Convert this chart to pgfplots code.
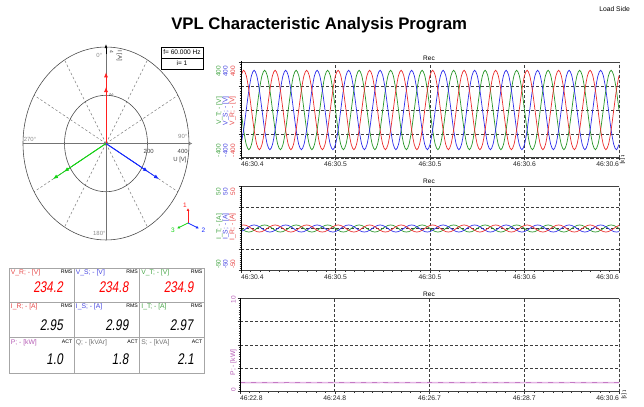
\documentclass[border=0pt]{standalone}
\usepackage{pgfplots}
\pgfplotsset{compat=1.18}
\usepackage{pgfplotstable}
\usepackage{fontspec}
\setmainfont{Liberation Sans}
\newfontfamily\segfont{Liberation Sans}[FakeStretch=0.76,FakeSlant=0.15]
\usetikzlibrary{arrows.meta}
\definecolor{wred}{RGB}{235,45,45}
\definecolor{wblue}{RGB}{45,45,235}
\definecolor{wgreen}{RGB}{40,150,40}
\definecolor{lred}{RGB}{230,70,70}
\definecolor{lblue}{RGB}{70,70,225}
\definecolor{lgreen}{RGB}{70,165,70}
\definecolor{pred}{RGB}{255,30,30}
\definecolor{pblue}{RGB}{20,40,255}
\definecolor{pgreen}{RGB}{20,210,20}
\definecolor{ppurple}{RGB}{180,90,180}
\definecolor{plight}{RGB}{228,180,228}
\definecolor{gridc}{RGB}{60,60,60}
\newcommand{\fs}[1]{\fontsize{#1}{#1}\selectfont}

\pgfplotstableread{
vr vs vt ir is it
287 -287 0 3.64 -3.64 0
331 -166 -166 4.2 -2.1 -2.1
287 0 -287 3.64 0 -3.64
166 166 -331 2.1 2.1 -4.2
0 287 -287 0 3.64 -3.64
-166 331 -166 -2.1 4.2 -2.1
-287 287 0 -3.64 3.64 0
-331 166 166 -4.2 2.1 2.1
-287 0 287 -3.64 0 3.64
-166 -166 331 -2.1 -2.1 4.2
0 -287 287 0 -3.64 3.64
166 -331 166 2.1 -4.2 2.1
287 -287 0 3.64 -3.64 0
331 -166 -166 4.2 -2.1 -2.1
287 0 -287 3.64 0 -3.64
166 166 -331 2.1 2.1 -4.2
0 287 -287 0 3.64 -3.64
-166 331 -166 -2.1 4.2 -2.1
-287 287 0 -3.64 3.64 0
-331 166 166 -4.2 2.1 2.1
-287 0 287 -3.64 0 3.64
-166 -166 331 -2.1 -2.1 4.2
0 -287 287 0 -3.64 3.64
166 -331 166 2.1 -4.2 2.1
287 -287 0 3.64 -3.64 0
331 -166 -166 4.2 -2.1 -2.1
287 0 -287 3.64 0 -3.64
166 166 -331 2.1 2.1 -4.2
0 287 -287 0 3.64 -3.64
-166 331 -166 -2.1 4.2 -2.1
-287 287 0 -3.64 3.64 0
-331 166 166 -4.2 2.1 2.1
-287 0 287 -3.64 0 3.64
-166 -166 331 -2.1 -2.1 4.2
0 -287 287 0 -3.64 3.64
166 -331 166 2.1 -4.2 2.1
287 -287 0 3.64 -3.64 0
331 -166 -166 4.2 -2.1 -2.1
287 0 -287 3.64 0 -3.64
166 166 -331 2.1 2.1 -4.2
0 287 -287 0 3.64 -3.64
-166 331 -166 -2.1 4.2 -2.1
-287 287 0 -3.64 3.64 0
-331 166 166 -4.2 2.1 2.1
-287 0 287 -3.64 0 3.64
-166 -166 331 -2.1 -2.1 4.2
0 -287 287 0 -3.64 3.64
166 -331 166 2.1 -4.2 2.1
287 -287 0 3.64 -3.64 0
331 -166 -166 4.2 -2.1 -2.1
287 0 -287 3.64 0 -3.64
166 166 -331 2.1 2.1 -4.2
0 287 -287 0 3.64 -3.64
-166 331 -166 -2.1 4.2 -2.1
-287 287 0 -3.64 3.64 0
-331 166 166 -4.2 2.1 2.1
-287 0 287 -3.64 0 3.64
-166 -166 331 -2.1 -2.1 4.2
0 -287 287 0 -3.64 3.64
166 -331 166 2.1 -4.2 2.1
287 -287 0 3.64 -3.64 0
331 -166 -166 4.2 -2.1 -2.1
287 0 -287 3.64 0 -3.64
166 166 -331 2.1 2.1 -4.2
0 287 -287 0 3.64 -3.64
-166 331 -166 -2.1 4.2 -2.1
-287 287 0 -3.64 3.64 0
-331 166 166 -4.2 2.1 2.1
-287 0 287 -3.64 0 3.64
-166 -166 331 -2.1 -2.1 4.2
0 -287 287 0 -3.64 3.64
166 -331 166 2.1 -4.2 2.1
287 -287 0 3.64 -3.64 0
331 -166 -166 4.2 -2.1 -2.1
287 0 -287 3.64 0 -3.64
166 166 -331 2.1 2.1 -4.2
0 287 -287 0 3.64 -3.64
-166 331 -166 -2.1 4.2 -2.1
-287 287 0 -3.64 3.64 0
-331 166 166 -4.2 2.1 2.1
-287 0 287 -3.64 0 3.64
-166 -166 331 -2.1 -2.1 4.2
0 -287 287 0 -3.64 3.64
166 -331 166 2.1 -4.2 2.1
287 -287 0 3.64 -3.64 0
331 -166 -166 4.2 -2.1 -2.1
287 0 -287 3.64 0 -3.64
166 166 -331 2.1 2.1 -4.2
0 287 -287 0 3.64 -3.64
-166 331 -166 -2.1 4.2 -2.1
-287 287 0 -3.64 3.64 0
-331 166 166 -4.2 2.1 2.1
-287 0 287 -3.64 0 3.64
-166 -166 331 -2.1 -2.1 4.2
0 -287 287 0 -3.64 3.64
166 -331 166 2.1 -4.2 2.1
287 -287 0 3.64 -3.64 0
331 -166 -166 4.2 -2.1 -2.1
287 0 -287 3.64 0 -3.64
166 166 -331 2.1 2.1 -4.2
0 287 -287 0 3.64 -3.64
-166 331 -166 -2.1 4.2 -2.1
-287 287 0 -3.64 3.64 0
-331 166 166 -4.2 2.1 2.1
-287 0 287 -3.64 0 3.64
-166 -166 331 -2.1 -2.1 4.2
0 -287 287 0 -3.64 3.64
166 -331 166 2.1 -4.2 2.1
287 -287 0 3.64 -3.64 0
331 -166 -166 4.2 -2.1 -2.1
287 0 -287 3.64 0 -3.64
166 166 -331 2.1 2.1 -4.2
0 287 -287 0 3.64 -3.64
-166 331 -166 -2.1 4.2 -2.1
-287 287 0 -3.64 3.64 0
-331 166 166 -4.2 2.1 2.1
-287 0 287 -3.64 0 3.64
-166 -166 331 -2.1 -2.1 4.2
0 -287 287 0 -3.64 3.64
166 -331 166 2.1 -4.2 2.1
287 -287 0 3.64 -3.64 0
331 -166 -166 4.2 -2.1 -2.1
287 0 -287 3.64 0 -3.64
166 166 -331 2.1 2.1 -4.2
0 287 -287 0 3.64 -3.64
-166 331 -166 -2.1 4.2 -2.1
-287 287 0 -3.64 3.64 0
-331 166 166 -4.2 2.1 2.1
-287 0 287 -3.64 0 3.64
-166 -166 331 -2.1 -2.1 4.2
0 -287 287 0 -3.64 3.64
166 -331 166 2.1 -4.2 2.1
287 -287 0 3.64 -3.64 0
331 -166 -166 4.2 -2.1 -2.1
287 0 -287 3.64 0 -3.64
166 166 -331 2.1 2.1 -4.2
0 287 -287 0 3.64 -3.64
-166 331 -166 -2.1 4.2 -2.1
-287 287 0 -3.64 3.64 0
-331 166 166 -4.2 2.1 2.1
-287 0 287 -3.64 0 3.64
-166 -166 331 -2.1 -2.1 4.2
0 -287 287 0 -3.64 3.64
166 -331 166 2.1 -4.2 2.1
287 -287 0 3.64 -3.64 0
}\wave

\pgfplotsset{panel/.style={
  scale only axis, anchor=south west,
  axis line style={draw=none},
  tick align=outside, tick pos=left,
  major tick length=2.5bp, minor tick length=1.3bp,
  tick style={black!80, line width=0.4bp},
  minor tick style={black!80, line width=0.35bp},
  grid=major, major grid style={gridc, dash pattern=on 3bp off 2bp, line width=0.55bp},
  xticklabel style={font=\fs{6.8}, text=black!85, inner sep=1.5bp},
  yticklabels={},
  minor x tick num=9, minor y tick num=9,
}}
\newcommand{\frameit}{%
 \draw[black!50, line width=0.6bp] (rel axis cs:1,0) -- (rel axis cs:1,1);
 \draw[black!75, line width=0.8bp] (rel axis cs:0,1) -- (rel axis cs:1,1);
 \draw[black!75, line width=1.6bp] (rel axis cs:0,0) -- (rel axis cs:1,0);
 \draw[black, line width=0.6bp, -{Latex[length=4bp,width=3bp]}] (rel axis cs:0,0) -- ([yshift=7.5bp]rel axis cs:0,1);
}

\begin{document}
\begin{tikzpicture}
\path[use as bounding box] (0,0) rectangle (644bp,407bp);

% ---------------- phasor diagram ----------------
\begin{axis}[at={(18.85bp,162.2bp)}, anchor=south west, scale only axis,
  width=174.3bp, height=202.6bp, disabledatascaling,
  xmin=-420, xmax=420, ymin=-420, ymax=420, hide axis, clip=false]
\draw[black!55, dash pattern=on 2.5bp off 2bp, line width=0.45bp]
  (axis cs:0,0) -- (axis cs:200,346.4)
  (axis cs:0,0) -- (axis cs:346.4,200)
  (axis cs:0,0) -- (axis cs:346.4,-200)
  (axis cs:0,0) -- (axis cs:200,-346.4)
  (axis cs:0,0) -- (axis cs:-200,-346.4)
  (axis cs:0,0) -- (axis cs:-346.4,-200)
  (axis cs:0,0) -- (axis cs:-346.4,200)
  (axis cs:0,0) -- (axis cs:-200,346.4);
\draw[black!70, line width=0.6bp] (axis cs:0,0) ellipse [x radius=400, y radius=400];
\draw[black!70, line width=0.6bp] (axis cs:0,0) ellipse [x radius=200, y radius=200];
\draw[black!55, line width=0.6bp, -{Triangle[open,length=3bp,width=3bp]}] (axis cs:-400,0) -- (axis cs:415,0);
\draw[black!55, line width=0.6bp] (axis cs:0,-400) -- (axis cs:0,400);
\draw[black, line width=0.6bp, -{Latex[length=4bp,width=3bp]}] (axis cs:0,370) -- (axis cs:0,412);
% currents (longer)
\addplot[pred, line width=0.8bp, -{Latex[length=5bp,width=4bp]}] coordinates {(0,0) (0,295)};
\addplot[pblue, line width=0.8bp, -{Latex[length=5bp,width=4bp]}] coordinates {(0,0) (255.5,-147.5)};
\addplot[pgreen, line width=0.8bp, -{Latex[length=5bp,width=4bp]}] coordinates {(0,0) (-255.5,-147.5)};
% voltages
\addplot[pred, line width=0.8bp, -{Latex[length=5bp,width=4bp]}] coordinates {(0,0) (0,234)};
\addplot[pblue, line width=0.8bp, -{Latex[length=5bp,width=4bp]}] coordinates {(0,0) (202.6,-117)};
\addplot[pgreen, line width=0.8bp, -{Latex[length=5bp,width=4bp]}] coordinates {(0,0) (-202.6,-117)};
\end{axis}

% phasor labels
\begin{scope}[every node/.style={inner sep=0, font=\fs{6}}]
\node[text=black!45] at (99.3bp,352bp) {0°};
\node[text=black!45] at (182.7bp,271bp) {90°};
\node[text=black!45] at (30bp,267.7bp) {270°};
\node[text=black!45] at (99.3bp,173.7bp) {180°};
\node[text=black!75] at (148.7bp,255.3bp) {200};
\node[text=black!75] at (182.7bp,255.3bp) {400};
\node[text=black!75] at (180bp,247bp) {U [V]};
\node[text=black!75, rotate=-90] at (119.3bp,351bp) {I [A]};
\node[text=black!75, rotate=-90, font=\fs{5}] at (111.7bp,355.3bp) {4};
\node[text=black!75, rotate=-90, font=\fs{5}] at (111.7bp,312bp) {2};
\end{scope}
% frequency box
\draw[black, line width=0.7bp] (161bp,338bp) rectangle (203bp,360bp);
\draw[black, line width=0.6bp] (161bp,349bp) -- (203bp,349bp);
\node[inner sep=0, font=\fs{6.6}] at (182bp,354.5bp) {f= 60.000 Hz};
\node[inner sep=0, font=\fs{6.6}] at (182bp,343.5bp) {i= 1};
% orientation icon
\draw[pred, line width=0.7bp, -{Latex[length=3bp,width=3bp]}] (188bp,184bp) -- (188bp,199bp);
\draw[pblue, line width=0.7bp, -{Latex[length=3bp,width=3bp]}] (188bp,184bp) -- (199bp,178.5bp);
\draw[pgreen, line width=0.7bp, -{Latex[length=3bp,width=3bp]}] (188bp,184bp) -- (177bp,178.5bp);
\node[inner sep=0, font=\fs{6.5}, text=pred] at (185bp,201.5bp) {1};
\node[inner sep=0, font=\fs{6.5}, text=pblue] at (203.5bp,177bp) {2};
\node[inner sep=0, font=\fs{6.5}, text=pgreen] at (173bp,177bp) {3};

% ---------------- title ----------------
\node[anchor=base, inner sep=0, font=\fs{16.8}\bfseries] at (319.2bp,377.7bp) {VPL Characteristic Analysis Program};
\node[anchor=base east, inner sep=0, font=\fs{6.8}] at (630bp,395.3bp) {Load Side};

% ---------------- table ----------------
\draw[black!35, line width=0.8bp]
  (9bp,34bp) rectangle (204bp,139bp)
  (74bp,34bp) -- (74bp,139bp) (139.5bp,34bp) -- (139.5bp,139bp)
  (9bp,105bp) -- (204bp,105bp) (9bp,70bp) -- (204bp,70bp);
\begin{scope}[every node/.style={inner sep=0, font=\fs{6.8}, anchor=west}]
\node[text=lred] at (10.7bp,134bp) {V\_R; - [V]};
\node[text=lblue] at (75.7bp,134bp) {V\_S; - [V]};
\node[text=lgreen] at (141.2bp,134bp) {V\_T; - [V]};
\node[text=lred] at (10.7bp,100bp) {I\_R; - [A]};
\node[text=lblue] at (75.7bp,100bp) {I\_S; - [A]};
\node[text=lgreen] at (141.2bp,100bp) {I\_T; - [A]};
\node[text=ppurple] at (10.7bp,64.5bp) {P; - [kW]};
\node[text=black!55] at (75.7bp,64.5bp) {Q; - [kVAr]};
\node[text=black!55] at (141.2bp,64.5bp) {S; - [kVA]};
\end{scope}
\begin{scope}[every node/.style={inner sep=0, font=\fs{5.2}, anchor=east}]
\node at (72.5bp,135bp) {RMS}; \node at (138bp,135bp) {RMS}; \node at (202.5bp,135bp) {RMS};
\node at (72.5bp,101bp) {RMS}; \node at (138bp,101bp) {RMS}; \node at (202.5bp,101bp) {RMS};
\node at (72.5bp,65.5bp) {ACT}; \node at (138bp,65.5bp) {ACT}; \node at (202.5bp,65.5bp) {ACT};
\end{scope}
\begin{scope}[every node/.style={inner sep=0, anchor=base east, font=\segfont\fs{15.5}}]
\node[text=red] at (63bp,114.3bp) {234.2};
\node[text=red] at (128.5bp,114.3bp) {234.8};
\node[text=red] at (193.5bp,114.3bp) {234.9};
\node at (63bp,76bp) {2.95};
\node at (128.5bp,76bp) {2.99};
\node at (193bp,76bp) {2.97};
\node at (63bp,42bp) {1.0};
\node at (128.5bp,42bp) {1.8};
\node at (194bp,42bp) {2.1};
\end{scope}

% ---------------- voltage panel ----------------
\begin{axis}[panel, at={(241bp,249bp)}, width=378bp, height=96bp,
  xmin=0, xmax=144, ymin=-400, ymax=400,
  xtick={0,36,72,108,144},
  xticklabels={\makebox[0pt][l]{46:30.4},46:30.5,46:30.5,46:30.6,\makebox[0pt][r]{46:30.6}},
  ytick={-400,-200,0,200,400}]
\addplot[wgreen, line width=0.7bp, smooth] table[x expr=\coordindex, y=vt]{\wave};
\addplot[wblue, line width=0.7bp, smooth] table[x expr=\coordindex, y=vs]{\wave};
\addplot[wred, line width=0.7bp, smooth] table[x expr=\coordindex, y=vr]{\wave};
\frameit
\end{axis}

% ---------------- current panel ----------------
\begin{axis}[panel, at={(241bp,136.3bp)}, width=378bp, height=84.4bp,
  xmin=0, xmax=144, ymin=-50, ymax=50,
  xtick={0,36,72,108,144},
  xticklabels={\makebox[0pt][l]{46:30.4},46:30.5,46:30.5,46:30.6,\makebox[0pt][r]{46:30.6}},
  ytick={-50,-25,0,25,50}]
\addplot[wgreen, line width=0.7bp, smooth] table[x expr=\coordindex, y=it]{\wave};
\addplot[wblue, line width=0.7bp, smooth] table[x expr=\coordindex, y=is]{\wave};
\addplot[wred, line width=0.7bp, smooth] table[x expr=\coordindex, y=ir]{\wave};
\frameit
\end{axis}

% ---------------- power panel ----------------
\begin{axis}[panel, at={(240bp,15.3bp)}, width=379bp, height=93.4bp,
  xmin=0, xmax=4, ymin=0, ymax=10,
  xtick={0,1,2,3,4},
  xticklabels={\makebox[0pt][l]{46:22.8},46:24.8,46:26.7,46:28.7,\makebox[0pt][r]{46:30.6}},
  ytick={0,2.5,5,7.5,10}]
\addplot[plight, line width=1.4bp] coordinates {(0,0.97) (0.5,0.98) (1,0.97) (1.5,0.98) (2,0.97) (2.5,0.98) (3,0.97) (3.5,0.98) (4,0.97)};
\addplot[ppurple, line width=0.5bp, dash pattern=on 5bp off 6bp] coordinates {(0,0.97) (0.5,0.98) (1,0.97) (1.5,0.98) (2,0.97) (2.5,0.98) (3,0.97) (3.5,0.98) (4,0.97)};
\frameit
\end{axis}

% ---------------- panel texts ----------------
\begin{scope}[every node/.style={inner sep=0, font=\fs{6.5}}]
\node at (429bp,349bp) {Rec};
\node at (429bp,226bp) {Rec};
\node at (429bp,113bp) {Rec};
% voltage y ticks
\node[rotate=90, anchor=east, text=lgreen] at (218.5bp,341bp) {400};
\node[rotate=90, anchor=east, text=lblue] at (225.3bp,341bp) {400};
\node[rotate=90, anchor=east, text=lred] at (233bp,341bp) {400};
\node[rotate=90, anchor=west, text=lgreen] at (218.5bp,249.7bp) {-400};
\node[rotate=90, anchor=west, text=lblue] at (225.3bp,249.7bp) {-400};
\node[rotate=90, anchor=west, text=lred] at (233bp,249.7bp) {-400};
\node[rotate=90, text=lgreen, font=\fs{6.8}] at (219.3bp,296.2bp) {V\_T; - [V]};
\node[rotate=90, text=lblue, font=\fs{6.8}] at (225.9bp,296.2bp) {V\_S; - [V]};
\node[rotate=90, text=lred, font=\fs{6.8}] at (232.6bp,296.2bp) {V\_R; - [V]};
% current y ticks
\node[rotate=90, anchor=east, text=lgreen] at (218.5bp,219.3bp) {50};
\node[rotate=90, anchor=east, text=lblue] at (225.3bp,219.3bp) {50};
\node[rotate=90, anchor=east, text=lred] at (233bp,219.3bp) {50};
\node[rotate=90, anchor=west, text=lgreen] at (218.5bp,138bp) {-50};
\node[rotate=90, anchor=west, text=lblue] at (225.3bp,138bp) {-50};
\node[rotate=90, anchor=west, text=lred] at (233bp,138bp) {-50};
\node[rotate=90, text=lgreen, font=\fs{6.8}] at (219.3bp,180.3bp) {I\_T; - [A]};
\node[rotate=90, text=lblue, font=\fs{6.8}] at (225.9bp,180.3bp) {I\_S; - [A]};
\node[rotate=90, text=lred, font=\fs{6.8}] at (232.6bp,180.3bp) {I\_R; - [A]};
% power y ticks
\node[rotate=90, text=ppurple] at (233.3bp,107bp) {10};
\node[rotate=90, text=ppurple] at (233.3bp,17.5bp) {0};
\node[rotate=90, text=ppurple, font=\fs{6.8}] at (233.3bp,44.5bp) {P; - [kW]};
% time units
\node[rotate=-90, font=\fs{5.5}] at (622.5bp,247bp) {t [s]};
\node[rotate=-90, font=\fs{5.5}] at (624bp,12bp) {t [s]};
\end{scope}
\end{tikzpicture}
\end{document}
